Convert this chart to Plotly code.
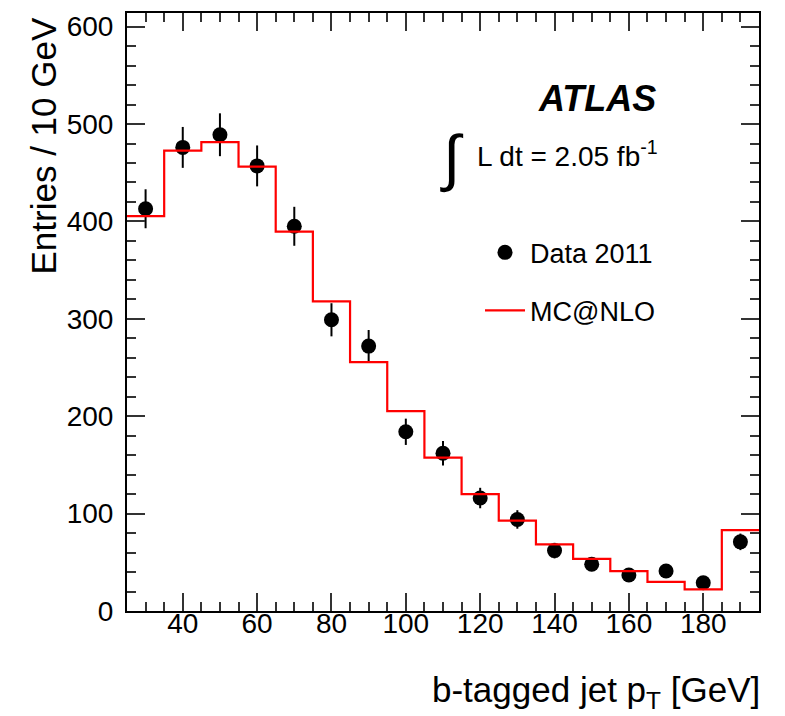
import plotly.graph_objects as go

# ---- data ----
bin_centers = [30, 40, 50, 60, 70, 80, 90, 100, 110, 120, 130, 140, 150, 160, 170, 180, 190]
bin_width = 10
data_2011 = [413, 476, 489, 457, 395, 299, 272, 184, 162, 116, 94, 62, 48, 37, 41, 29, 71]
data_err = [20, 21, 22, 21, 20, 17, 16.5, 13.5, 12.5, 10.5, 9.5, 8, 7, 6, 6.5, 5.5, 8.5]
mc_at_nlo = [405.5, 472.6, 481.4, 456.2, 389.5, 317.9, 255.5, 205.2, 157.4, 119.9,
             92.7, 68.5, 53.5, 40.9, 30.0, 22.2, 83.1]

x_tick_vals = [40, 60, 80, 100, 120, 140, 160, 180]
y_tick_vals = [0, 100, 200, 300, 400, 500, 600]

# histogram step line built from bin edges
edges = [c - bin_width / 2 for c in bin_centers] + [bin_centers[-1] + bin_width / 2]
mc_steps = mc_at_nlo + [mc_at_nlo[-1]]

FONT = "Liberation Sans, Arial, Helvetica, sans-serif"

fig = go.Figure()
fig.add_trace(go.Scatter(
    x=bin_centers, y=data_2011, mode="markers", name="Data 2011",
    marker=dict(color="black", size=15, symbol="circle"),
    error_y=dict(type="data", array=data_err, color="black", thickness=2, width=0),
    legendgroup="a",
))
fig.add_trace(go.Scatter(
    x=edges, y=mc_steps, mode="lines", name="MC@NLO",
    line=dict(color="#ff0000", width=2.2, shape="hv"),
    legendgroup="b",
))

axis_common = dict(
    showline=True, linecolor="black", linewidth=2, mirror="allticks",
    ticks="inside", ticklen=18, tickwidth=1.5, tickcolor="#333333",
    showgrid=False, zeroline=False,
    tickfont=dict(family=FONT, size=28, color="black"),
)

fig.update_xaxes(
    range=[25, 195], tickvals=x_tick_vals,
    minor=dict(dtick=5, tick0=0, ticks="inside", ticklen=9, tickwidth=1.5, tickcolor="#333333"),
    ticklabelstandoff=-14,
    **axis_common,
)
fig.update_yaxes(
    range=[0, 614], tickvals=y_tick_vals,
    minor=dict(dtick=20, tick0=0, ticks="inside", ticklen=9, tickwidth=1.5, tickcolor="#333333"),
    ticklabelstandoff=6,
    **axis_common,
)

fig.update_layout(
    width=785, height=716,
    margin=dict(l=127, r=26, t=11, b=105),
    plot_bgcolor="white", paper_bgcolor="white",
    font=dict(family=FONT, color="black"),
    showlegend=True,
    legend=dict(
        x=(480 - 127) / 632, y=0.64, xanchor="left", yanchor="top",
        bgcolor="rgba(0,0,0,0)", borderwidth=0, itemwidth=40,
        font=dict(family=FONT, size=27, color="black"),
        tracegroupgap=20, traceorder="grouped",
    ),
    annotations=[
        dict(text="<b><i>ATLAS</i></b>", xref="paper", yref="paper",
             x=(658 - 127) / 632, y=(611 - 97) / 600, xanchor="right", yanchor="middle",
             showarrow=False, font=dict(family=FONT, size=36, color="black")),
        dict(text="∫", xref="paper", yref="paper",
             x=(452 - 127) / 632, y=(611 - 156) / 600, xanchor="center", yanchor="middle",
             showarrow=False, font=dict(family=FONT, size=62, color="black")),
        dict(text="L dt = 2.05 fb<sup>-1</sup>", xref="paper", yref="paper",
             x=(475 - 127) / 632, y=(611 - 152) / 600, xanchor="left", yanchor="middle",
             showarrow=False, font=dict(family=FONT, size=28, color="black")),
        dict(text="b-tagged jet p<sub>T</sub> [GeV]", xref="paper", yref="paper",
             x=(762 - 127) / 632, y=(611 - 716) / 600, xanchor="right", yanchor="bottom",
             showarrow=False, font=dict(family=FONT, size=35, color="black")),
        dict(text="Entries / 10 GeV", xref="paper", yref="paper", textangle=-90,
             x=(43 - 127) / 632, y=(611 - 14) / 600, xanchor="center", yanchor="top",
             showarrow=False, font=dict(family=FONT, size=35, color="black")),
    ],
)

fig.write_html("out.html")
